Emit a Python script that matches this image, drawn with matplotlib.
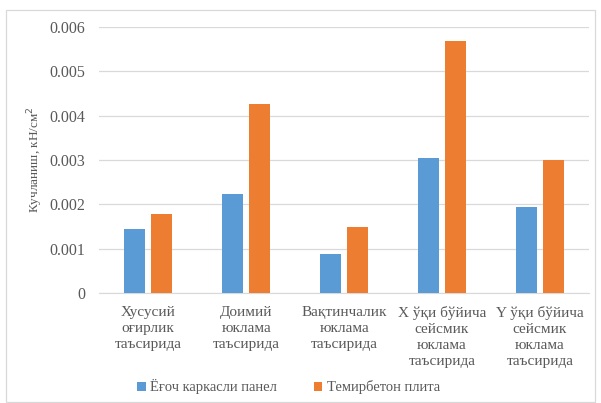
import numpy as np
import matplotlib
matplotlib.use('Agg')
import matplotlib.pyplot as plt
from matplotlib.patches import Rectangle

plt.rcParams['font.family'] = ['Liberation Serif', 'DejaVu Serif']

categories = ['Хусусий\nоғирлик\nтаъсирида',
              'Доимий\nюклама\nтаъсирида',
              'Вақтинчалик\nюклама\nтаъсирида',
              'X ўқи бўйича\nсейсмик\nюклама\nтаъсирида',
              'Y ўқи бўйича\nсейсмик\nюклама\nтаъсирида']
panel = [0.00144, 0.00224, 0.00089, 0.00305, 0.00193]
plita = [0.00179, 0.00427, 0.00148, 0.00568, 0.00299]
series_names = ['Ёғоч каркасли панел', 'Темирбетон плита']
yticks = [0, 0.001, 0.002, 0.003, 0.004, 0.005, 0.006]
ytick_labels = ['0', '0.001', '0.002', '0.003', '0.004', '0.005', '0.006']

txt = '#595959'
fig = plt.figure(figsize=(6.01, 4.03), dpi=100)
ax = fig.add_axes([0.165, 0.273, 0.815, 0.66])

x = np.arange(len(categories))
w = 0.215
ax.bar(x - 0.14, panel, w, color='#5B9BD5', label=series_names[0], zorder=3)
ax.bar(x + 0.14, plita, w, color='#ED7D31', label=series_names[1], zorder=3)

ax.set_xlim(-0.5, len(categories) - 0.5)
ax.set_ylim(0, 0.006)
ax.set_yticks(yticks)
ax.set_yticklabels(ytick_labels)
ax.set_xticks(x)
ax.set_xticklabels(categories, linespacing=1.3)
ax.tick_params(axis='y', length=0, labelsize=11.5, colors=txt, pad=10)
ax.tick_params(axis='x', length=0, labelsize=11, colors=txt, pad=9.5)
ax.grid(axis='y', color='#d9d9d9', linewidth=0.9, zorder=0)
for s in ['top', 'right', 'left']:
    ax.spines[s].set_visible(False)
ax.spines['bottom'].set_color('#d9d9d9')

ax.set_ylabel('Кучланиш, кН/см$^2$', fontsize=9.5, color=txt, labelpad=4)
ax.yaxis.set_label_coords(-0.11, 0.5)

fig.legend(loc='center', bbox_to_anchor=(0.48, 0.04), ncol=2, frameon=False,
           fontsize=10.5, handlelength=0.6, handleheight=0.6, handletextpad=0.3,
           columnspacing=2.5, labelcolor=txt)

# chart frame
fig.patches.append(Rectangle((6 / 601, 1 / 403), 589 / 601, 392 / 403,
                             transform=fig.transFigure, fill=False,
                             edgecolor='#d9d9d9', linewidth=0.9))

fig.savefig('out.png', dpi=100)
